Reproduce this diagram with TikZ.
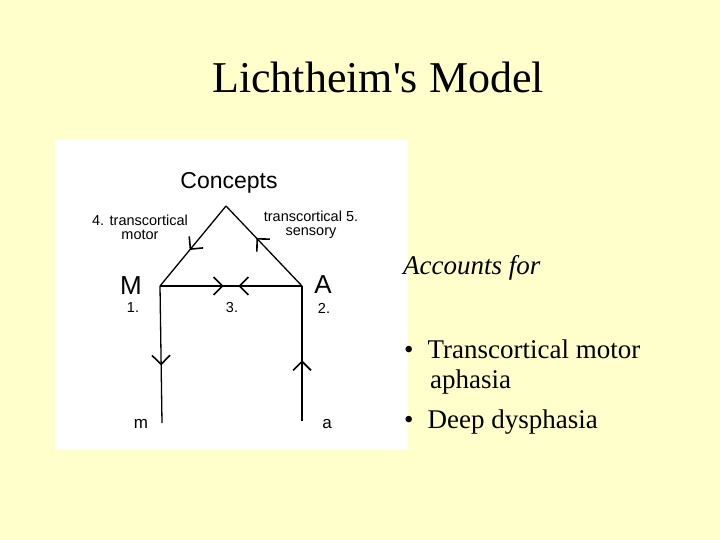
\documentclass[tikz,border=0pt]{standalone}
\usepackage{fontspec}
\setmainfont{Liberation Serif}
\newfontfamily\titlef{Liberation Serif}
\newfontfamily\arialf{Liberation Sans}
\usetikzlibrary{arrows.meta,decorations.markings}
\definecolor{bg}{HTML}{FFFFCC}
\tikzset{
  ln/.style={line width=1.3pt},
  mk/.style={postaction={decorate,decoration={markings,mark=at position #1 with {\arrow{Straight Barb[length=9pt,width=18pt,line width=1.6pt]}}}}},
  lab/.style={font=\arialf\fontsize{14.5}{14}\selectfont,align=center,inner sep=0pt},
  hand/.style={font=\arialf\fontsize{26}{26}\selectfont,inner sep=0pt},
  txt/.style={font=\fontsize{27}{30}\selectfont,anchor=west,inner sep=0pt}
}
\begin{document}
\begin{tikzpicture}[x=1pt,y=-1pt]
\fill[bg] (0,0) rectangle (720,540);
\useasboundingbox (0,0) rectangle (720,540);
\fill[white] (55,140) rectangle (408,450);
\node[font=\titlef\fontsize{44}{46}\selectfont] (title) at (378,77) {Lichtheim's Model};
% diagram
\coordinate (apex) at (226,206);
\coordinate (Mc) at (160,286);
\coordinate (Ac) at (302,286);
\coordinate (mb) at (162,423);
\coordinate (ab) at (302,421);
\coordinate (mid) at (227,286);
\draw[ln,mk=0.55] (apex) -- (Mc);
\draw[ln,mk=0.6] (Ac) -- (apex);
\draw[ln,mk=0.95] (Mc) -- (mid);
\draw[ln,mk=0.85] (Ac) -- (mid);
\draw[ln,mk=0.58] (Mc) -- (mb);
\draw[ln,mk=0.45] (ab) -- (Ac);
\node[font=\arialf\fontsize{23}{24}\selectfont] (concepts) at (229,183) {Concepts};
\node[lab] (l4) at (140,227) {4. transcortical\\motor};
\node[lab] (l5) at (311,225) {transcortical 5.\\sensory};
\node[hand] (M) at (131,286) {M};
\node[hand] (A) at (323,285) {A};
\node[lab] (n1) at (133,308) {1.};
\node[lab] (n3) at (232,308) {3.};
\node[lab] (n2) at (324,308) {2.};
\node[lab,font=\arialf\fontsize{17}{17}\selectfont] (m) at (141,424) {m};
\node[lab,font=\arialf\fontsize{17}{17}\selectfont] (a) at (327,424) {a};
% right text
\node[txt,font=\fontsize{27}{30}\selectfont\itshape] (acc) at (403,268) {Accounts for};
\node[txt] (b1) at (404,349) {\textbullet\hspace{14pt}Transcortical motor};
\node[txt] (b1b) at (430,382) {aphasia};
\node[txt] (b2) at (404,422) {\textbullet\hspace{14pt}Deep dysphasia};
\end{tikzpicture}
\end{document}
